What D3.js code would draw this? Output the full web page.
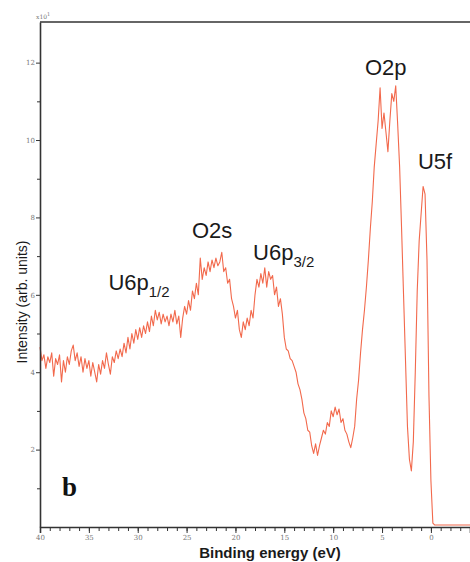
<!DOCTYPE html>
<html>
<head>
<meta charset="utf-8">
<script src="https://cdn.jsdelivr.net/npm/d3@7"></script>
<style>
  html, body { margin: 0; padding: 0; background: #fff; }
  svg { display: block; }
</style>
</head>
<body>
<svg id="chart" width="470" height="562"></svg>
<script>
// spectrum sampled from 40 eV down to -4 eV, every 0.2 eV
const energyStart = 40;
const energyStep = -0.2;
const intensity = [
  4.65, 4.3, 4.45, 4.1, 4.4,
  4.25, 4.5, 3.9, 4.35, 4.2,
  4.45, 3.75, 4.3, 4.0, 4.4,
  4.2, 4.55, 4.7, 4.3, 4.5,
  4.15, 4.4, 4.0, 4.35, 4.1,
  4.3, 3.9, 4.25, 4.0, 3.75,
  4.2, 3.95, 4.3, 4.1, 4.5,
  4.2, 3.95, 4.4, 4.25, 4.55,
  4.35, 4.6, 4.4, 4.75, 4.5,
  4.9, 4.6, 5.0, 4.75, 5.1,
  4.85, 5.15, 4.9, 5.2, 5.0,
  5.3, 5.05, 5.45, 5.2, 5.6,
  5.35, 5.55, 5.25, 5.5, 5.3,
  5.45, 5.2, 5.5, 5.3, 5.6,
  5.25, 5.45, 4.9, 5.4, 5.7,
  5.5, 5.85, 5.6, 6.1, 5.9,
  6.3, 6.0, 6.95, 6.4, 6.7,
  6.5, 6.85, 6.6, 6.9, 6.7,
  6.95, 6.75, 6.85, 7.1, 6.6,
  6.7, 6.3, 6.4, 5.9, 5.7,
  5.4, 5.6, 5.1, 4.9, 5.3,
  5.1, 5.4, 5.2, 5.6, 5.4,
  6.0, 6.4, 6.2, 6.55, 6.3,
  6.7, 6.2, 6.6, 6.4, 6.5,
  6.0, 6.2, 5.7, 5.9, 5.5,
  4.9, 4.6, 4.55, 4.35, 4.3,
  4.15, 4.0, 3.7, 3.55, 3.3,
  2.95, 2.8, 2.5, 2.45, 2.1,
  1.9, 2.15, 1.85, 2.1, 2.3,
  2.5, 2.4, 2.7, 2.6, 3.0,
  2.85, 3.1, 2.9, 3.05, 2.7,
  2.8, 2.5, 2.4, 2.2, 2.05,
  2.3, 2.6, 3.3, 3.8, 4.5,
  5.1, 5.6, 6.2, 6.9, 7.7,
  8.4, 9.3, 9.9, 10.5, 11.35,
  10.3, 10.7, 10.2, 9.7, 10.5,
  11.2, 11.0, 11.4, 10.4, 9.3,
  7.7, 6.0, 4.3, 2.6, 1.75,
  1.45, 2.2, 4.0, 6.1, 7.4,
  8.1, 8.8, 8.6, 6.9, 3.4,
  1.2, 0.1, 0.05, 0.05, 0.05,
  0.05, 0.05, 0.05, 0.05, 0.05,
  0.05, 0.05, 0.05, 0.05, 0.05,
  0.05, 0.05, 0.05, 0.05, 0.05,
  0.05
];

const xTicks = [40, 35, 30, 25, 20, 15, 10, 5, 0];
const yTicks = [2, 4, 6, 8, 10, 12];

// peak labels: [text, subscript, energy (left edge), intensity (baseline)]
const peakLabels = [
  ["U6p", "1/2", 33.0, 6.12],
  ["O2s", "", 24.45, 7.47],
  ["U6p", "3/2", 18.2, 6.9],
  ["O2p", "", 6.75, 11.68],
  ["U5f", "", 1.33, 9.25]
];

var svg = d3.select("#chart"),
  margin = { top: 22, right: 0, bottom: 35, left: 40 },
  width = +svg.attr("width") - margin.left - margin.right,
  height = +svg.attr("height") - margin.top - margin.bottom;

var x = d3.scaleLinear().domain([40, -4]).range([0, width]);
var y = d3.scaleLinear().domain([0, 13.05]).range([height, 0]);

var g = svg.append("g").attr("transform", "translate(" + margin.left + "," + margin.top + ")");

var points = intensity.map((v, i) => ({ e: energyStart + i * energyStep, v: v }));

// the spectrum
g.append("path")
  .datum(points)
  .attr("fill", "none")
  .attr("stroke", "#f2694c")
  .attr("stroke-width", 1.1)
  .attr("stroke-linejoin", "round")
  .attr("d", d3.line().x(d => x(d.e)).y(d => y(d.v)));

// x axis, major + minor ticks
var xMinor = d3.range(40, -4.5, -1);
g.append("g")
  .attr("transform", "translate(0," + height + ")")
  .call(d3.axisBottom(x).tickValues(xMinor).tickSize(4).tickFormat(""))
  .call(a => a.select(".domain").remove())
  .selectAll("line").attr("stroke", "#333");

g.append("g")
  .attr("class", "axis axis--x")
  .attr("transform", "translate(0," + height + ")")
  .call(d3.axisBottom(x).tickValues(xTicks).tickSize(6).tickPadding(2).tickFormat(d3.format("d")))
  .call(a => a.select(".domain").attr("stroke", "#333").attr("stroke-width", 1.6))
  .call(a => a.selectAll("line").attr("stroke", "#333"))
  .call(a => a.selectAll("text").attr("fill", "#777").style("font", "7px 'DejaVu Serif', serif"));

// y axis
var yMinor = d3.range(1, 13, 2);
g.append("g")
  .call(d3.axisLeft(y).tickValues(yMinor).tickSize(3).tickFormat(""))
  .call(a => a.select(".domain").remove())
  .selectAll("line").attr("stroke", "#333");

g.append("g")
  .attr("class", "axis axis--y")
  .call(d3.axisLeft(y).tickValues(yTicks).tickSize(4).tickPadding(1).tickSizeOuter(0))
  .call(a => a.select(".domain").attr("stroke", "#333").attr("stroke-width", 1.6))
  .call(a => a.selectAll("line").attr("stroke", "#333"))
  .call(a => a.selectAll("text").attr("fill", "#777").style("font", "7px 'DejaVu Serif', serif"));

// top frame line
g.append("line")
  .attr("x1", 0).attr("x2", width)
  .attr("y1", 0).attr("y2", 0)
  .attr("stroke", "#333").attr("stroke-width", 1.6);

// exponent label
var ex = g.append("text")
  .attr("x", -4).attr("y", -3)
  .attr("fill", "#777")
  .style("font", "6px 'DejaVu Serif', serif")
  .text("x10");
ex.append("tspan").attr("dy", -3).style("font-size", "5px").text("1");

// peak labels
var lab = g.selectAll(".peak")
  .data(peakLabels)
  .enter()
  .append("text")
  .attr("class", "peak")
  .attr("x", d => x(d[2]))
  .attr("y", d => y(d[3]))
  .attr("fill", "#1a1a1a")
  .style("font", "22px 'Liberation Sans', Arial, sans-serif")
  .text(d => d[0]);
lab.filter(d => d[1])
  .append("tspan")
  .attr("dy", 7)
  .style("font-size", "15px")
  .text(d => d[1]);

// panel letter
g.append("text")
  .attr("x", 22).attr("y", height - 31)
  .style("font", "bold 27px 'Liberation Serif', 'Times New Roman', serif")
  .attr("fill", "#111")
  .text("b");

// axis titles
svg.append("text")
  .attr("transform", "translate(27," + 302 + ") rotate(-90)")
  .attr("text-anchor", "middle")
  .attr("fill", "#1a1a1a")
  .style("font", "14px 'Liberation Sans', Arial, sans-serif")
  .text("Intensity (arb. units)");

svg.append("text")
  .attr("x", 270).attr("y", 558)
  .attr("text-anchor", "middle")
  .attr("fill", "#1a1a1a")
  .style("font", "bold 15px 'Liberation Sans', Arial, sans-serif")
  .text("Binding energy (eV)");
</script>
</body>
</html>
